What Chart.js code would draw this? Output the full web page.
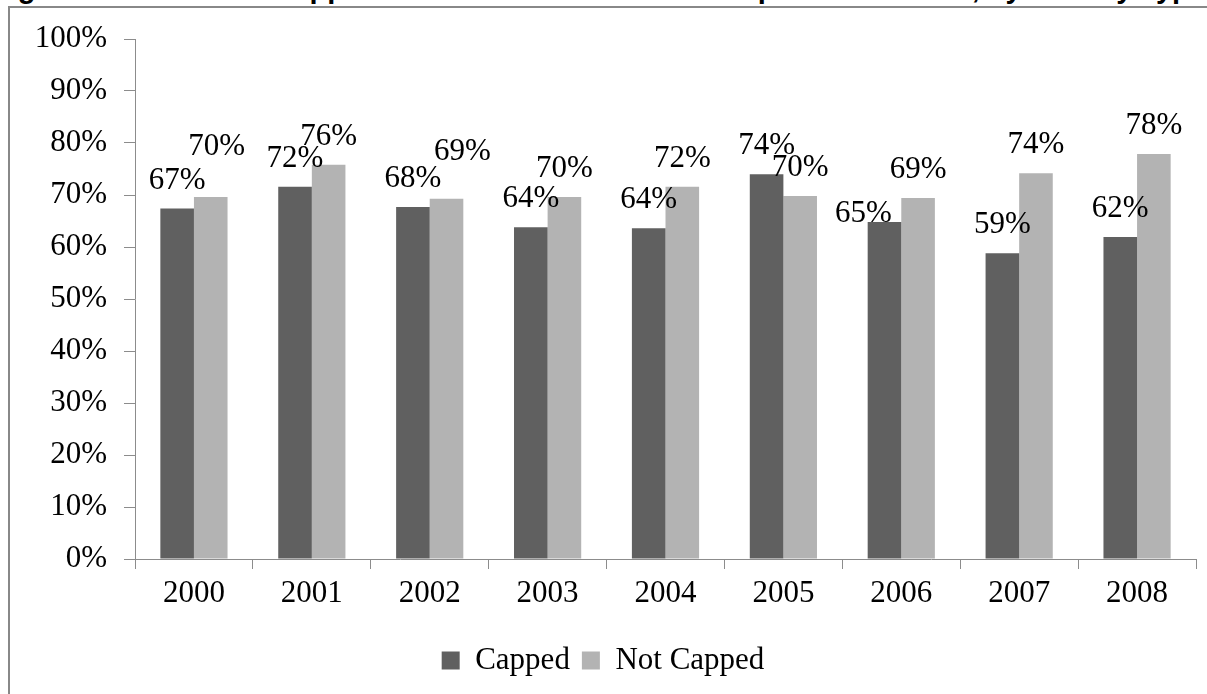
<!DOCTYPE html>
<html>
<head>
<meta charset="utf-8">
<script src="https://cdn.jsdelivr.net/npm/chart.js@4"></script>
<style>
  html, body { margin: 0; padding: 0; background: #fff; overflow: hidden; }
  body { width: 1207px; height: 694px; position: relative; }
  #titleClip {
    position: absolute; left: 0; top: 0; width: 1207px; height: 6px; overflow: hidden; z-index: 2;
  }
  #title {
    position: absolute; left: -8px; top: -26px; height: 29px; white-space: nowrap;
    font-family: "Liberation Sans", Arial, sans-serif; font-weight: bold; font-size: 29px;
    line-height: 29px; color: #000;
  }
  #box {
    position: absolute; left: 8px; top: 6px; width: 1222px; height: 720px;
    border: 2px solid #888; background: #fff;
  }
  #chartWrap { position: absolute; left: 0; top: 0; width: 1220px; height: 700px; }
</style>
</head>
<body>
<div id="titleClip"><div id="title">Figure 7: Percent of Capped and All Students Who Completed the Term, by Year by Type</div></div>
<div id="box">
  <div id="chartWrap"><canvas id="barChart"></canvas></div>
</div>
<script>
const years = ['2000', '2001', '2002', '2003', '2004', '2005', '2006', '2007', '2008'];
const capped = [67.4, 71.6, 67.7, 63.8, 63.6, 74.0, 64.8, 58.8, 61.9];
const notCapped = [69.6, 75.8, 69.3, 69.6, 71.6, 69.8, 69.4, 74.2, 77.9];
const yTicks = [0, 10, 20, 30, 40, 50, 60, 70, 80, 90, 100];

const serif = '"Liberation Serif", "Times New Roman", serif';

// a few value labels were dragged by hand in the original (dataset, index -> dx, dy)
const labelNudges = [
  { 6: [-21, 20] },
  { 0: [6, -22], 2: [16, -19] },
];

const barLabels = {
  id: 'barLabels',
  afterDatasetsDraw(chart) {
    const ctx = chart.ctx;
    ctx.save();
    ctx.font = '31px ' + serif;
    ctx.fillStyle = '#000';
    ctx.textAlign = 'center';
    ctx.textBaseline = 'alphabetic';
    chart.data.datasets.forEach((ds, di) => {
      const meta = chart.getDatasetMeta(di);
      meta.data.forEach((bar, i) => {
        const n = labelNudges[di][i] || [0, 0];
        ctx.fillText(Math.round(ds.data[i]) + '%', bar.x + n[0], bar.y - 20 + n[1]);
      });
    });
    ctx.restore();
  }
};

new Chart(document.getElementById('barChart'), {
  type: 'bar',
  data: {
    labels: years,
    datasets: [
      { label: 'Capped', data: capped, backgroundColor: '#606060' },
      { label: 'Not Capped', data: notCapped, backgroundColor: '#b3b3b3' },
    ],
  },
  options: {
    responsive: true,
    maintainAspectRatio: false,
    animation: false,
    devicePixelRatio: 1,
    categoryPercentage: 0.57,
    barPercentage: 1,
    layout: { padding: { top: 31, right: 34, bottom: 22, left: 0 } },
    plugins: {
      legend: {
        position: 'bottom',
        labels: {
          color: '#000',
          font: { family: serif, size: 31 },
          boxWidth: 18,
          boxHeight: 18,
          padding: 12,
        },
      },
      tooltip: { enabled: false },
    },
    scales: {
      x: {
        offset: true,
        grid: { display: true, drawOnChartArea: false, offset: true, tickLength: 10, color: '#8c8c8c' },
        border: { color: '#8c8c8c' },
        ticks: { color: '#000', font: { family: serif, size: 31 }, padding: 6 },
        afterFit: s => { s.height = 74; },
      },
      y: {
        min: 0,
        max: 100,
        afterBuildTicks: s => { s.ticks = yTicks.map(v => ({ value: v })); },
        grid: { display: true, drawOnChartArea: false, tickLength: 11, color: '#8c8c8c' },
        border: { color: '#8c8c8c' },
        ticks: { color: '#000', font: { family: serif, size: 31 }, padding: 17, callback: v => v + '%' },
        afterFit: s => { s.width = 125; s.paddingTop = 0; s.paddingBottom = 0; },
      },
    },
  },
  plugins: [barLabels],
});
</script>
</body>
</html>
